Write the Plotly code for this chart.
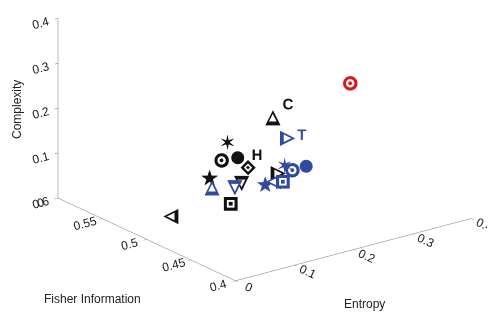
import plotly.graph_objects as go

# ---- data ----
names = ["C", "T", "b_hex", "b_ring", "b_dot", "b_diam", "b_star", "u_tri_up",
         "u_tri_dn", "b_tri_dn", "b_sq", "b_tri_lt", "u_hex", "u_ring", "u_dot",
         "b_tri_rt", "u_sq", "u_tri_lt", "u_star", "red_ring"]
entropy = [0.1685, 0.1785, 0.1368, 0.1117, 0.1239, 0.1415, 0.1364, 0.1256,
           0.1342, 0.1456, 0.1424, 0.0407, 0.1585, 0.1715, 0.1798,
           0.1625, 0.1556, 0.1541, 0.1554, 0.2395]
fisher = [0.47, 0.46, 0.50, 0.49, 0.48, 0.48, 0.52, 0.51,
          0.49, 0.49, 0.50, 0.50, 0.45, 0.45, 0.44,
          0.46, 0.45, 0.46, 0.47, 0.43]
complexity = [0.2405, 0.2002, 0.1688, 0.1465, 0.1575, 0.1294, 0.0723, 0.0624,
              0.0779, 0.0836, 0.0300, 0.0372, 0.1563, 0.1408, 0.1560,
              0.1274, 0.1206, 0.1119, 0.0971, 0.3292]

label_text = ["C", "T", "H"]
label_entropy = [0.1944, 0.2027, 0.1568]
label_fisher = [0.47, 0.46, 0.48]
label_complexity = [0.2617, 0.2000, 0.1527]

entropy_ticks = [0, 0.1, 0.2, 0.3, 0.4]
fisher_ticks = [0.4, 0.45, 0.5, 0.55, 0.6]
complexity_ticks = [0, 0.1, 0.2, 0.3, 0.4]

# ---- styles ----
BLK = "#111111"
BLU = "#2f4a9f"
RED = "#e0141e"
WHT = "#ffffff"
kind = ["tri_up", "tri_rt", "hex", "ring", "dot", "diam", "star", "tri_up",
        "tri_dn", "tri_dn", "sq", "tri_lt", "hex", "ring", "dot",
        "tri_rt", "sq", "tri_lt", "star", "ring"]
colour = [BLK, BLU, BLK, BLK, BLK, BLK, BLK, BLU,
          BLU, BLK, BLK, BLK, BLU, BLU, BLU,
          BLK, BLU, BLU, BLU, RED]
# layers: (glyph, font size, use marker colour? else white)
layers = {
    "tri_up": [("\u25B2", 20, True), ("\u25B2", 10, False)],
    "tri_dn": [("\u25BC", 20, True), ("\u25BC", 10, False)],
    "tri_rt": [("\u25B6", 20, True), ("\u25B6", 10, False)],
    "tri_lt": [("\u25C0", 20, True), ("\u25C0", 10, False)],
    "ring": [("\u25CF", 19, True), ("\u25CF", 11, False), ("\u25CF", 5, True)],
    "sq": [("\u25A0", 18, True), ("\u25A0", 10, False), ("\u25A0", 5, True)],
    "diam": [("\u25C6", 20, True), ("\u25C6", 11, False), ("\u25C6", 5, True)],
    "hex": [("\u2736", 21, True)],
    "star": [("\u2605", 22, True)],
    "dot": [("\u25CF", 17, True)],
}
label_colour = [BLK, BLU, BLK]

fig = go.Figure()
for level in range(3):
    for i in range(len(names)):
        lay = layers[kind[i]]
        if level >= len(lay):
            continue
        g, sz, own = lay[level]
        fig.add_trace(go.Scatter3d(
            x=[entropy[i]], y=[fisher[i]], z=[complexity[i]],
            mode="text", text=[g], textposition="middle center",
            textfont=dict(family="DejaVu Sans", size=sz,
                          color=colour[i] if own else WHT),
            showlegend=False, hoverinfo="skip"))

fig.add_trace(go.Scatter3d(
    x=label_entropy, y=label_fisher, z=label_complexity,
    mode="text", text=label_text, textposition="middle center",
    textfont=dict(family="Liberation Sans", size=15, color=label_colour,
                  weight="bold"),
    showlegend=False, hoverinfo="skip"))

axis_common = dict(showgrid=False, zeroline=False, showbackground=False,
                   showline=True, linecolor="#777777", linewidth=1,
                   ticks="outside", ticklen=4, tickcolor="#777777",
                   showspikes=False, title_text="",
                   tickfont=dict(family="Liberation Sans", size=12, color="#222222"))

cen = (-0.109, -0.048, -0.278)
vdir = (-0.563, -0.748, 0.351)
dist = 2.0
S = 1.88

title_font = dict(family="Liberation Sans", size=12, color="#222222")
fig.update_layout(
    width=495, height=314,
    margin=dict(l=0, r=0, t=0, b=0),
    paper_bgcolor="white",
    scene=dict(
        xaxis=dict(axis_common, range=[0, 0.4],
                   tickvals=entropy_ticks, ticktext=[str(v) for v in entropy_ticks]),
        yaxis=dict(axis_common, range=[0.4, 0.6],
                   tickvals=fisher_ticks, ticktext=[str(v) for v in fisher_ticks]),
        zaxis=dict(axis_common, range=[0, 0.4],
                   tickvals=complexity_ticks, ticktext=[str(v) for v in complexity_ticks]),
        aspectmode="manual", aspectratio=dict(x=1 * S, y=1 * S, z=0.65 * S),
        camera=dict(projection=dict(type="orthographic"),
                    eye=dict(x=cen[0] + vdir[0] * dist, y=cen[1] + vdir[1] * dist,
                             z=cen[2] + vdir[2] * dist),
                    up=dict(x=0, y=0, z=1),
                    center=dict(x=cen[0], y=cen[1], z=cen[2])),
        domain=dict(x=[0, 1], y=[0, 1]),
    ),
    annotations=[
        dict(text="Fisher Information", x=0.170, y=0.073, xref="paper", yref="paper",
             xanchor="center", yanchor="middle", showarrow=False, font=title_font),
        dict(text="Entropy", x=0.721, y=0.057, xref="paper", yref="paper",
             xanchor="center", yanchor="middle", showarrow=False, font=title_font),
        dict(text="Complexity", x=0.018, y=0.678, xref="paper", yref="paper",
             xanchor="center", yanchor="middle", textangle=-90, showarrow=False,
             font=title_font),
    ],
)

fig.write_html("out.html", config={"displayModeBar": False})
